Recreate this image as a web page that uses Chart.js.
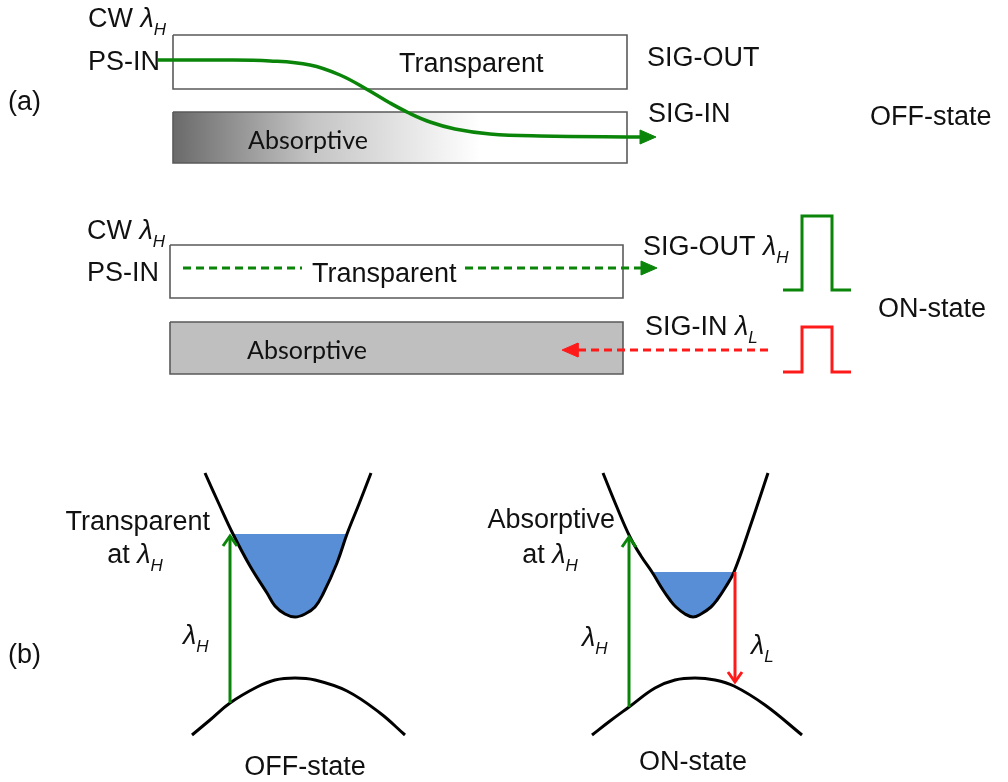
<!DOCTYPE html>
<html>
<head>
<meta charset="utf-8">
<script src="https://cdn.jsdelivr.net/npm/chart.js@4.4.0/dist/chart.umd.min.js"></script>
<style>
  html, body { margin: 0; padding: 0; background: #fff; }
  canvas { display: block; }
</style>
</head>
<body>
<canvas id="fig" width="1008" height="782"></canvas>
<script>
// figure geometry (x to the right, y downwards)

// (a) OFF-state waveguides
var offTransparentBox = [[173,35],[627,35],[627,89],[173,89],[173,35]];
var offAbsorptiveBox = [[173,112],[627,112],[627,163],[173,163],[173,112]];
var offSignalPath = [[158,60],[220,60],[270,61],[310,65],[340,75],[368,90],[390,103],[409,113],[430,122],[455,129],[490,134],[540,136],[642,137]];
var offSignalTip = [656,137];

// (a) ON-state waveguides
var onTransparentBox = [[170,245],[623,245],[623,298],[170,298],[170,245]];
var onAbsorptiveBox = [[170,322],[623,322],[623,374],[170,374],[170,322]];
var psDashA = [[183,268],[302,268]];
var psDashB = [[465,268],[643,268]];
var psTip = [657,268];
var sigInDash = [[768,350],[576,350]];
var sigInTip = [562,350];
var pulseOut = [[783,290],[802,290],[802,216],[832,216],[832,290],[851,290]];
var pulseIn = [[783,372],[802,372],[802,327],[832,327],[832,372],[851,372]];

// (b) band diagrams
var cbOff = [[205,473],[219,504],[233,534],[250,566],[267,593],[275,606],[285,614],[295,617],[305,614],[315,607],[323,594],[337,563],[347,534],[359,504],[371,473]];
var cbOffFilled = [[233,534],[250,566],[267,593],[275,606],[285,614],[295,617],[305,614],[315,607],[323,594],[337,563],[347,534]];
var vbOff = [[192,735],[210,720],[230,703],[257,687],[275,680],[295,678],[315,680],[347,691],[380,713],[405,735]];
var pumpOff = [[230,703],[230,536]];
var offFermi = 534;

var cbOn = [[603,473],[616,505],[630,537],[641,556],[652,572],[663,590],[670,600],[676,607],[685,614],[693,617],[701,614],[711,607],[717,600],[725,588],[734,572],[751,524],[768,473]];
var cbOnFilled = [[652,572],[663,590],[670,600],[676,607],[685,614],[693,617],[701,614],[711,607],[717,600],[725,588],[734,572]];
var vbOn = [[592,735],[610,721],[629,707],[655,688],[675,680],[695,678],[715,680],[734,686],[765,705],[802,735]];
var pumpOn = [[629,707],[629,537]];
var emitOn = [[735,572],[735,682]];
var onFermi = 572;

// text: [text, x, y, align, family]
var labels = [
  ['CW λ_H', 88, 17, 'left'],
  ['PS-IN', 88, 60, 'left'],
  ['(a)', 8, 100, 'left'],
  ['Transparent', 399, 62, 'left'],
  ['Absorptive', 248, 140, 'left', 'cal'],
  ['SIG-OUT', 647, 56, 'left'],
  ['SIG-IN', 648, 112, 'left'],
  ['OFF-state', 870, 115, 'left'],
  ['CW λ_H', 87, 229, 'left'],
  ['PS-IN', 87, 271, 'left'],
  ['Transparent', 312, 272, 'left'],
  ['Absorptive', 247, 350, 'left', 'cal'],
  ['SIG-OUT λ_H', 643, 245, 'left'],
  ['SIG-IN λ_L', 645, 325, 'left'],
  ['ON-state', 878, 307, 'left'],
  ['Transparent', 210, 520, 'right'],
  ['at λ_H', 135, 553, 'center'],
  ['λ_H', 183, 634, 'left'],
  ['(b)', 8, 653, 'left'],
  ['OFF-state', 305, 765, 'center'],
  ['Absorptive', 615, 518, 'right'],
  ['at λ_H', 550, 553, 'center'],
  ['λ_H', 582, 636, 'left'],
  ['λ_L', 751, 644, 'left'],
  ['ON-state', 693, 760, 'center']
];

var GREEN = '#0a850a', RED = '#ff1a1a', BLUE = '#588ed6', EDGE = '#5a5a5a';

function pts(a) {
  return a.map(function (p) { return { x: p[0], y: p[1] }; });
}

// filled triangle arrow head, dir is the unit direction of the arrow
function headShape(tip, dir, len, half) {
  var bx = tip[0] - dir[0] * len, by = tip[1] - dir[1] * len;
  var px = -dir[1], py = dir[0];
  return [tip, [bx + px * half, by + py * half], [bx - px * half, by - py * half], tip];
}
// open V arrow head
function chevron(tip, dir, len, half) {
  var bx = tip[0] - dir[0] * len, by = tip[1] - dir[1] * len;
  var px = -dir[1], py = dir[0];
  return [[bx + px * half, by + py * half], tip, [bx - px * half, by - py * half]];
}

function line(points, color, width, extra) {
  var ds = {
    data: pts(points),
    borderColor: color,
    borderWidth: width,
    backgroundColor: color,
    pointRadius: 0,
    showLine: true,
    fill: false,
    tension: 0,
    order: 5
  };
  for (var k in extra) ds[k] = extra[k];
  return ds;
}

var absorbGradient = function (context) {
  var chart = context.chart;
  if (!chart.chartArea) return '#bbbbbb';
  var xs = chart.scales.x;
  var g = chart.ctx.createLinearGradient(xs.getPixelForValue(173), 0, xs.getPixelForValue(480), 0);
  g.addColorStop(0, '#6a6a6a');
  g.addColorStop(0.45, '#c4c4c4');
  g.addColorStop(1, '#ffffff');
  return g;
};

var smooth = { tension: 0.4 };

var datasets = [
  // box fills
  line(offAbsorptiveBox.slice(0, 2), 'rgba(0,0,0,0)', 0, { fill: { value: 163 }, backgroundColor: absorbGradient, order: 20 }),
  line(onAbsorptiveBox.slice(0, 2), 'rgba(0,0,0,0)', 0, { fill: { value: 374 }, backgroundColor: '#bfbfbf', order: 20 }),
  // box outlines
  line(offTransparentBox, EDGE, 1.6, { order: 15 }),
  line(offAbsorptiveBox, EDGE, 1.6, { order: 15 }),
  line(onTransparentBox, EDGE, 1.6, { order: 15 }),
  line(onAbsorptiveBox, EDGE, 1.6, { order: 15 }),
  // OFF-state signal path
  line(offSignalPath, GREEN, 3.5, smooth),
  line(headShape(offSignalTip, [1, 0], 16, 7), GREEN, 1, { fill: 'shape' }),
  // ON-state dashed paths
  line(psDashA, GREEN, 3, { borderDash: [8, 5] }),
  line(psDashB, GREEN, 3, { borderDash: [8, 5] }),
  line(headShape(psTip, [1, 0], 16, 7), GREEN, 1, { fill: 'shape' }),
  line(sigInDash, RED, 3, { borderDash: [8, 5] }),
  line(headShape(sigInTip, [-1, 0], 16, 7), RED, 1, { fill: 'shape' }),
  // pulses
  line(pulseOut, GREEN, 3),
  line(pulseIn, RED, 3),
  // band fillings
  line(cbOffFilled, 'rgba(0,0,0,0)', 0, { fill: { value: offFermi }, backgroundColor: BLUE, tension: 0.4, order: 12 }),
  line(cbOnFilled, 'rgba(0,0,0,0)', 0, { fill: { value: onFermi }, backgroundColor: BLUE, tension: 0.4, order: 12 }),
  // bands
  line(cbOff, '#000', 3, smooth),
  line(vbOff, '#000', 3, smooth),
  line(cbOn, '#000', 3, smooth),
  line(vbOn, '#000', 3, smooth),
  // transitions
  line(pumpOff, GREEN, 3, { order: 2 }),
  line(chevron(pumpOff[1], [0, -1], 10, 7), GREEN, 3, { order: 2 }),
  line(pumpOn, GREEN, 3, { order: 2 }),
  line(chevron(pumpOn[1], [0, -1], 10, 7), GREEN, 3, { order: 2 }),
  line(emitOn, RED, 3, { order: 2 }),
  line(chevron(emitOn[1], [0, 1], 10, 7), RED, 3, { order: 2 })
];

// text with an italic lambda and italic subscript ("λ_H")
function richParts(str) {
  var parts = [];
  var i = str.indexOf('λ');
  if (i < 0) return [{ t: str }];
  if (i > 0) parts.push({ t: str.slice(0, i) });
  parts.push({ t: 'λ', it: true });
  var rest = str.slice(i + 1);
  if (rest.charAt(0) === '_') parts.push({ t: rest.slice(1), it: true, sub: true });
  return parts;
}

var textPlugin = {
  id: 'labels',
  afterDraw: function (chart) {
    var c = chart.ctx, xs = chart.scales.x, ys = chart.scales.y;
    c.save();
    c.fillStyle = '#111';
    c.textBaseline = 'alphabetic';
    c.textAlign = 'left';
    labels.forEach(function (l) {
      var size = l[4] === 'cal' ? 25 : 27;
      var fam = l[4] === 'cal' ? 'Lato, "Open Sans", sans-serif' : '"Liberation Sans", Arial, sans-serif';
      var parts = richParts(l[0]);
      var total = 0;
      parts.forEach(function (p) {
        var s = p.sub ? Math.round(size * 0.64) : size;
        p.font = (p.it ? 'italic ' : '') + s + 'px ' + fam;
        c.font = p.font;
        p.w = c.measureText(p.t).width;
        total += p.w;
      });
      var x = xs.getPixelForValue(l[1]);
      var base = ys.getPixelForValue(l[2]) + size * 0.36;
      if (l[3] === 'center') x -= total / 2;
      if (l[3] === 'right') x -= total;
      parts.forEach(function (p) {
        c.font = p.font;
        c.fillText(p.t, x, base + (p.sub ? size * 0.3 : 0));
        x += p.w;
      });
    });
    c.restore();
  }
};

new Chart(document.getElementById('fig'), {
  type: 'scatter',
  data: { datasets: datasets },
  options: {
    responsive: false,
    devicePixelRatio: 1,
    animation: false,
    layout: { padding: 0 },
    plugins: { legend: { display: false }, tooltip: { enabled: false } },
    scales: {
      x: { type: 'linear', min: 0, max: 1008, display: false },
      y: { type: 'linear', min: 0, max: 782, reverse: true, display: false }
    }
  },
  plugins: [textPlugin]
});
</script>
</body>
</html>
